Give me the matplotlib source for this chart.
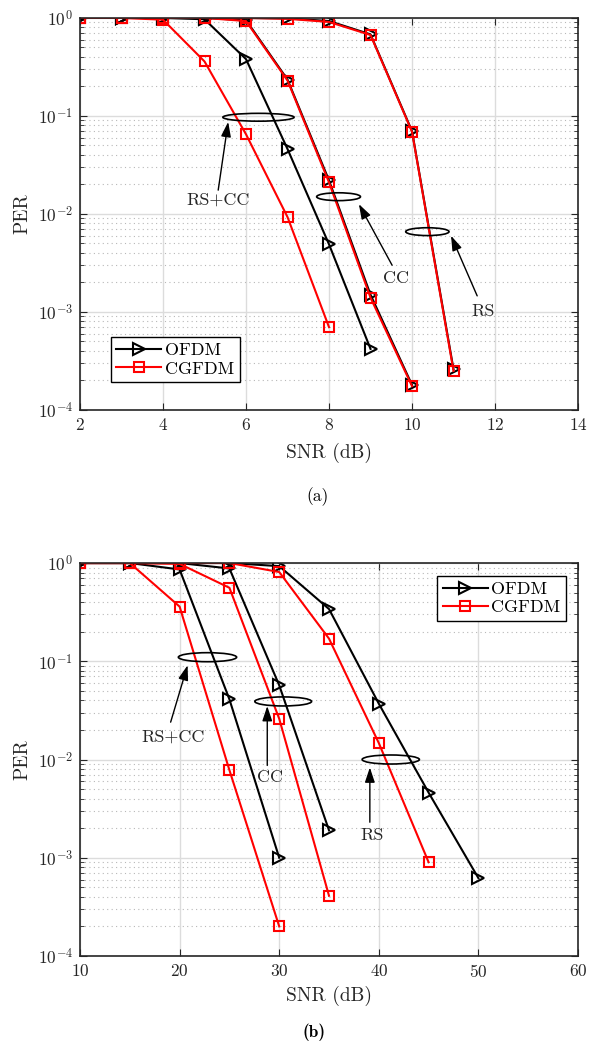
import numpy as np
import matplotlib
matplotlib.use('Agg')
import matplotlib.pyplot as plt
from matplotlib.patches import Ellipse
from matplotlib.ticker import LogLocator, NullFormatter, FixedLocator

plt.rcParams['font.family'] = ['cmr10', 'DejaVu Serif']
plt.rcParams['mathtext.fontset'] = 'cm'
plt.rcParams['axes.formatter.use_mathtext'] = True

# ---------------- data (a) ----------------
a_rscc_x_ofdm = [2, 3, 4, 5, 6, 7, 8, 9]
a_rscc_ofdm = [1.0, 1.0, 1.0, 0.97, 0.38, 0.046, 0.0049, 0.00042]
a_rscc_x_cg = [2, 3, 4, 5, 6, 7, 8]
a_rscc_cg = [1.0, 1.0, 0.96, 0.36, 0.065, 0.0093, 0.00070]
a_cc_x = [2, 3, 4, 5, 6, 7, 8, 9, 10]
a_cc_ofdm = [1.0, 1.0, 1.0, 1.0, 0.95, 0.235, 0.022, 0.0015, 0.00018]
a_cc_cg = [1.0, 1.0, 1.0, 1.0, 0.93, 0.23, 0.021, 0.0014, 0.000175]
a_rs_x = [2, 3, 4, 5, 6, 7, 8, 9, 10, 11]
a_rs_ofdm = [1.0, 1.0, 1.0, 1.0, 1.0, 0.99, 0.93, 0.68, 0.070, 0.00026]
a_rs_cg = [1.0, 1.0, 1.0, 1.0, 1.0, 0.98, 0.91, 0.67, 0.069, 0.00025]

# ---------------- data (b) ----------------
b_rscc_x = [10, 15, 20, 25, 30]
b_rscc_ofdm = [1.0, 1.0, 0.86, 0.041, 0.001]
b_rscc_cg = [1.0, 1.0, 0.36, 0.0078, 0.0002]
b_cc_x = [10, 15, 20, 25, 30, 35]
b_cc_ofdm = [1.0, 1.0, 1.0, 0.88, 0.057, 0.0019]
b_cc_cg = [1.0, 1.0, 0.98, 0.56, 0.026, 0.00041]
b_rs_x_ofdm = [10, 15, 20, 25, 30, 35, 40, 45, 50]
b_rs_ofdm = [1.0, 1.0, 1.0, 1.0, 0.93, 0.34, 0.037, 0.0046, 0.00062]
b_rs_x_cg = [10, 15, 20, 25, 30, 35, 40, 45]
b_rs_cg = [1.0, 1.0, 1.0, 1.0, 0.81, 0.17, 0.0147, 0.0009]

a_xticks = [2, 4, 6, 8, 10, 12, 14]
b_xticks = [10, 20, 30, 40, 50, 60]

# annotations: (label, text pos, arrow tail, arrow tip, ellipse centre, ellipse width in axes fraction)
a_notes = [
    ("RS+CC", (5.33, 0.0139), (5.33, 0.0175), (5.57, 0.087), (6.3, 0.097), 0.143),
    ("CC", (9.61, 0.0022), (9.52, 0.0030), (8.72, 0.0126), (8.23, 0.015), 0.088),
    ("RS", (11.71, 0.00102), (11.57, 0.00146), (10.94, 0.0060), (10.37, 0.0066), 0.087),
]
b_notes = [
    ("RS+CC", (19.3, 0.0168), (19.1, 0.024), (20.8, 0.091), (22.8, 0.11), 0.117),
    ("CC", (29.1, 0.0066), (28.8, 0.0087), (28.8, 0.035), (30.4, 0.039), 0.114),
    ("RS", (39.3, 0.0017), (39.1, 0.0023), (39.1, 0.0083), (41.2, 0.010), 0.115),
]

BLACK = '#000000'
RED = '#ff0000'
ofdm_style = dict(color=BLACK, marker='>', markersize=9, markerfacecolor='none',
                  markeredgewidth=1.5, linewidth=1.5)
cg_style = dict(color=RED, marker='s', markersize=7.5, markerfacecolor='none',
                markeredgewidth=1.5, linewidth=1.5)

fig = plt.figure(figsize=(5.9, 10.44), dpi=100)
ax1 = fig.add_axes([0.1356, 0.6073, 0.8441, 0.3755])
ax2 = fig.add_axes([0.1356, 0.0843, 0.8441, 0.3764])


def style_axes(ax, xlim, xticks):
    ax.set_yscale('log')
    ax.set_xlim(*xlim)
    ax.set_ylim(1e-4, 1.0)
    ax.xaxis.set_major_locator(FixedLocator(xticks))
    ax.yaxis.set_major_locator(LogLocator(base=10, numticks=10))
    ax.yaxis.set_minor_locator(LogLocator(base=10, subs=np.arange(2, 10), numticks=20))
    ax.yaxis.set_minor_formatter(NullFormatter())
    ax.grid(True, which='major', color='#dcdcdc', linewidth=1.0, linestyle='-')
    ax.grid(True, which='minor', axis='y', color='#b8b8b8', linewidth=0.8, linestyle=(0, (1, 3)))
    ax.set_axisbelow(True)
    ax.tick_params(which='both', direction='in', top=True, right=True, colors='#262626',
                   labelcolor='#262626', labelsize=12.5)
    ax.tick_params(which='major', length=5, width=0.8)
    ax.tick_params(which='minor', length=3, width=0.6)
    ax.tick_params(axis='y', which='major', pad=5)
    ax.tick_params(axis='x', which='major', pad=5)
    for s in ax.spines.values():
        s.set_color('#262626')
        s.set_linewidth(1.2)


def add_notes(ax, notes, ell_h):
    for label, tpos, tail, tip, centre, w in notes:
        ax.text(tpos[0], tpos[1], label, ha='center', va='center', fontsize=13, color='#262626')
        ax.annotate('', xy=tip, xytext=tail, xycoords='data', textcoords='data',
                    arrowprops=dict(arrowstyle='-|>,head_length=0.9,head_width=0.3',
                                    color='black', lw=1.0, shrinkA=0, shrinkB=0))
        cx, cy = ax.transAxes.inverted().transform(ax.transData.transform(centre))
        ax.add_patch(Ellipse((cx, cy), w, ell_h, transform=ax.transAxes,
                             fill=False, edgecolor='black', linewidth=1.2, zorder=5))


def set_labels(ax, xlab_y):
    ax.set_xlabel('SNR (dB)', fontsize=14, color='#262626')
    ax.xaxis.label.set_va('center')
    ax.xaxis.set_label_coords(0.5, xlab_y)
    ax.set_ylabel('PER', fontsize=14, color='#262626')
    ax.yaxis.label.set_va('center')
    ax.yaxis.set_label_coords(-0.116, 0.5)


def add_legend(ax, handles, loc, anchor):
    leg = ax.legend(handles=handles, loc=loc, bbox_to_anchor=anchor,
                    borderaxespad=0, fontsize=13, frameon=True, fancybox=False,
                    edgecolor='black', handlelength=2.5, handletextpad=0.2,
                    borderpad=0.3, labelspacing=0.15, framealpha=1.0)
    leg.get_frame().set_linewidth(1.0)
    return leg


# ---------------- (a) ----------------
style_axes(ax1, (2, 14), a_xticks)
ax1.plot(a_rs_x, a_rs_ofdm, **ofdm_style)
ax1.plot(a_cc_x, a_cc_ofdm, **ofdm_style)
l1, = ax1.plot(a_rscc_x_ofdm, a_rscc_ofdm, label='OFDM', **ofdm_style)
ax1.plot(a_rs_x, a_rs_cg, **cg_style)
ax1.plot(a_cc_x, a_cc_cg, **cg_style)
l2, = ax1.plot(a_rscc_x_cg, a_rscc_cg, label='CGFDM', **cg_style)
add_notes(ax1, a_notes, 0.02)
set_labels(ax1, -0.110)
add_legend(ax1, [l1, l2], 'lower left', (0.062, 0.071))

# ---------------- (b) ----------------
style_axes(ax2, (10, 60), b_xticks)
ax2.plot(b_rs_x_ofdm, b_rs_ofdm, **ofdm_style)
ax2.plot(b_cc_x, b_cc_ofdm, **ofdm_style)
m1, = ax2.plot(b_rscc_x, b_rscc_ofdm, label='OFDM', **ofdm_style)
ax2.plot(b_rs_x_cg, b_rs_cg, **cg_style)
ax2.plot(b_cc_x, b_cc_cg, **cg_style)
m2, = ax2.plot(b_rscc_x, b_rscc_cg, label='CGFDM', **cg_style)
add_notes(ax2, b_notes, 0.023)
set_labels(ax2, -0.101)
add_legend(ax2, [m1, m2], 'upper right', (0.976, 0.967))

fig.text(318 / 590, 1 - 497 / 1044, '(a)', ha='center', va='center', fontsize=12.5)
fig.text(314 / 590, 1 - 1032 / 1044, '(b)', ha='center', va='center', fontsize=12.5,
         family=['cmb10', 'DejaVu Serif'])

fig.savefig('out.png', dpi=100)
